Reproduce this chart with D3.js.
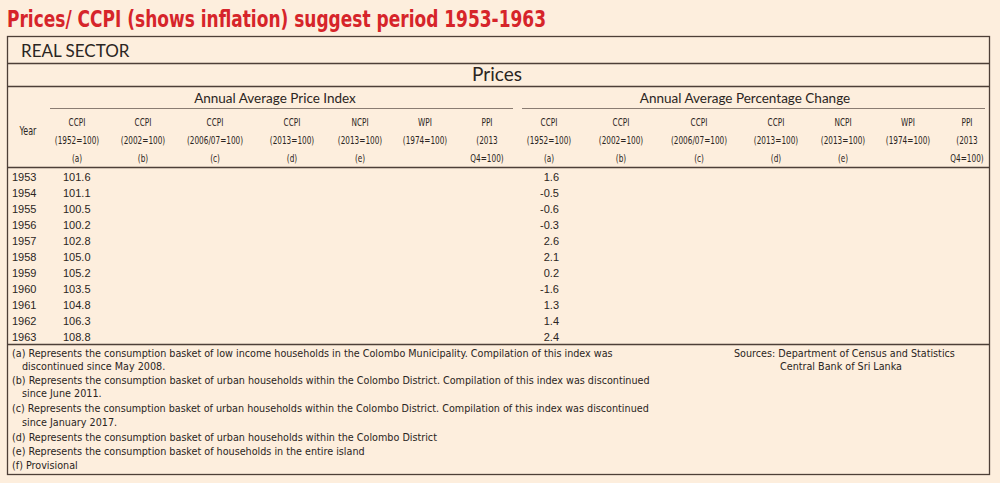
<!DOCTYPE html>
<html>
<head>
<meta charset="utf-8">
<script src="https://cdn.jsdelivr.net/npm/d3@7"></script>
<style>
  html, body { margin: 0; padding: 0; background: #fdeedd; }
  svg { display: block; }
</style>
</head>
<body>
<svg id="chart"></svg>
<script>
const years = [1953, 1954, 1955, 1956, 1957, 1958, 1959, 1960, 1961, 1962, 1963];
const ccpiIndex = [101.6, 101.1, 100.5, 100.2, 102.8, 105.0, 105.2, 103.5, 104.8, 106.3, 108.8];
const ccpiChange = [1.6, -0.5, -0.6, -0.3, 2.6, 2.1, 0.2, -1.6, 1.3, 1.4, 2.4];

const seriesNames = ["CCPI", "CCPI", "CCPI", "CCPI", "NCPI", "WPI", "PPI"];
const baseLabels = ["(1952=100)", "(2002=100)", "(2006/07=100)", "(2013=100)", "(2013=100)", "(1974=100)", "(2013"];
const noteLabels = ["(a)", "(b)", "(c)", "(d)", "(e)", "", "Q4=100)"];

const footnotes = [
  ["(a) Represents the consumption basket of low income households in the Colombo Municipality. Compilation of this index was", 0],
  ["discontinued since May 2008.", 1],
  ["(b) Represents the consumption basket of urban households within the Colombo District. Compilation of this index was discontinued", 0],
  ["since June 2011.", 1],
  ["(c) Represents the consumption basket of urban households within the Colombo District. Compilation of this index was discontinued", 0],
  ["since January 2017.", 1],
  ["(d) Represents the consumption basket of urban households within the Colombo District", 0],
  ["(e) Represents the consumption basket of households in the entire island", 0],
  ["(f)  Provisional", 0]
];
const sources = ["Sources: Department of Census and Statistics", "Central Bank of Sri Lanka"];

const w = 1000, h = 483;
const ink = "#4d3f37";
const txt = "#2b2522";
const headFont = "Lato, 'Open Sans', sans-serif";
const narrowFont = "'Liberation Sans Narrow', 'DejaVu Sans Condensed', sans-serif";
const dataFont = "'Liberation Sans', Arial, sans-serif";

const svg = d3.select("#chart").attr("width", w).attr("height", h);

svg.append("rect").attr("width", w).attr("height", h).attr("fill", "#fdeedd");

// title
svg.append("text")
  .attr("x", 7).attr("y", 27)
  .attr("font-family", narrowFont)
  .attr("font-weight", "bold")
  .attr("font-size", 23)
  .attr("fill", "#d6242a")
  .attr("textLength", 539)
  .attr("lengthAdjust", "spacingAndGlyphs")
  .text("Prices/ CCPI (shows inflation) suggest period 1953-1963");

// frame
svg.append("rect")
  .attr("x", 7.5).attr("y", 36.5)
  .attr("width", 982).attr("height", 438)
  .attr("fill", "none").attr("stroke", ink).attr("stroke-width", 1.3);

[63, 86, 167, 344].forEach(y => {
  svg.append("line")
    .attr("x1", 7.5).attr("x2", 989.5)
    .attr("y1", y + 0.5).attr("y2", y + 0.5)
    .attr("stroke", ink).attr("stroke-width", 1.3);
});

// group underlines
[[50, 513], [522, 985]].forEach(([a, b]) => {
  svg.append("line")
    .attr("x1", a).attr("x2", b)
    .attr("y1", 108.5).attr("y2", 108.5)
    .attr("stroke", "#8a7c72").attr("stroke-width", 1);
});

svg.append("text")
  .attr("x", 21).attr("y", 57)
  .attr("font-family", headFont).attr("font-size", 17)
  .attr("fill", txt)
  .text("REAL SECTOR");

svg.append("text")
  .attr("x", 497).attr("y", 81)
  .attr("text-anchor", "middle")
  .attr("font-family", headFont).attr("font-size", 19)
  .attr("fill", txt)
  .text("Prices");

// column scales (layout only)
const cols = d3.range(seriesNames.length);
const xLeft = d3.scaleOrdinal().domain(cols).range([77, 143, 215, 292, 360, 425, 487]);
const xRight = d3.scaleOrdinal().domain(cols).range([549, 621, 699, 776, 843, 908, 967]);
const y = d3.scalePoint().domain(years).range([177, 337]);

const groups = [
  { title: "Annual Average Price Index", cx: 275, x: xLeft },
  { title: "Annual Average Percentage Change", cx: 745, x: xRight }
];

// condensed small header text
const squeeze = 0.74;

groups.forEach(g => {
  svg.append("text")
    .attr("x", g.cx).attr("y", 103)
    .attr("text-anchor", "middle")
    .attr("font-family", headFont).attr("font-size", 13.5)
    .attr("fill", txt)
    .text(g.title);

  const head = svg.append("g")
    .attr("font-family", narrowFont)
    .attr("font-size", 11)
    .attr("fill", txt)
    .attr("text-anchor", "middle");

  [seriesNames, baseLabels, noteLabels].forEach((row, r) => {
    head.selectAll(null)
      .data(cols)
      .join("text")
      .attr("transform", d => `translate(${g.x(d)},${126 + r * 18}) scale(${squeeze},1)`)
      .text(d => row[d]);
  });
});

svg.append("text")
  .attr("transform", `translate(28,135) scale(${squeeze},1)`)
  .attr("text-anchor", "middle")
  .attr("font-family", narrowFont).attr("font-size", 12)
  .attr("fill", txt)
  .text("Year");

// data rows
const body = svg.append("g")
  .attr("font-family", dataFont)
  .attr("font-size", 11)
  .attr("fill", txt);

body.selectAll(".yr")
  .data(years)
  .join("text")
  .attr("class", "yr")
  .attr("x", 12)
  .attr("y", d => y(d) + 4)
  .text(d => d);

body.selectAll(".idx")
  .data(ccpiIndex)
  .join("text")
  .attr("class", "idx")
  .attr("x", xLeft(0) - 14)
  .attr("y", (d, i) => y(years[i]) + 4)
  .text(d => d.toFixed(1));

body.selectAll(".chg")
  .data(ccpiChange)
  .join("text")
  .attr("class", "chg")
  .attr("x", xRight(0) + 10)
  .attr("y", (d, i) => y(years[i]) + 4)
  .attr("text-anchor", "end")
  .text(d => d.toFixed(1));

// footnotes
const notes = svg.append("g")
  .attr("font-family", narrowFont)
  .attr("font-size", 10.7)
  .attr("fill", txt);

const noteY = [357, 370, 384, 397, 412, 426, 441, 455, 469];

notes.selectAll(".fn")
  .data(footnotes)
  .join("text")
  .attr("class", "fn")
  .attr("x", d => d[1] ? 22 : 12)
  .attr("y", (d, i) => noteY[i])
  .text(d => d[0]);

notes.append("text").attr("x", 734).attr("y", 357).text(sources[0]);
notes.append("text").attr("x", 780).attr("y", 370).text(sources[1]);
</script>
</body>
</html>
